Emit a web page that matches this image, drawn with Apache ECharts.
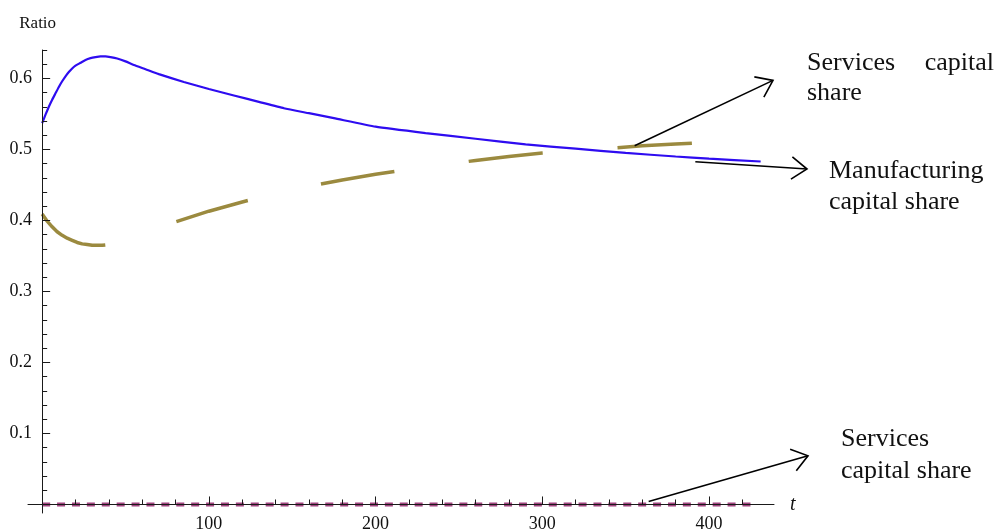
<!DOCTYPE html>
<html>
<head>
<meta charset="utf-8">
<script src="https://cdn.jsdelivr.net/npm/echarts@6/dist/echarts.min.js"></script>
<style>
  html, body { margin: 0; padding: 0; background: #fff; }
  #chart { width: 997px; height: 532px; }
</style>
</head>
<body>
<div id="chart"></div>
<script>
// Manufacturing capital share (solid blue)
const manufT = [0, 2, 4, 6, 8, 10, 12, 14, 16, 18, 20, 23, 26, 29, 32, 35, 38, 41, 45, 50, 55, 62, 70, 85, 100, 115, 130, 145, 160, 175, 200, 230, 260, 290, 320, 350, 380, 400, 431];
const manufV = [0.537, 0.549, 0.560, 0.570, 0.579, 0.588, 0.596, 0.603, 0.609, 0.614, 0.618, 0.622, 0.626, 0.6285, 0.630, 0.631, 0.631, 0.630, 0.628, 0.624, 0.619, 0.613, 0.606, 0.595, 0.585, 0.576, 0.567, 0.558, 0.551, 0.544, 0.532, 0.523, 0.515, 0.507, 0.501, 0.495, 0.490, 0.487, 0.483];

// Services capital share, upper curve (long dashes)
const servUpT = [0, 3, 6, 9, 12, 15, 18, 21, 24, 27, 30, 33, 36, 40, 45, 50, 55, 60, 70, 80, 100, 120, 140, 160, 180, 200, 220, 240, 260, 280, 300, 320, 340, 360, 380, 400, 431];
const servUpV = [0.409, 0.399, 0.391, 0.384, 0.379, 0.375, 0.372, 0.369, 0.367, 0.366, 0.365, 0.365, 0.365, 0.366, 0.369, 0.372, 0.376, 0.380, 0.390, 0.398, 0.413, 0.426, 0.438, 0.448, 0.457, 0.465, 0.472, 0.478, 0.4845, 0.490, 0.495, 0.499, 0.5015, 0.505, 0.5075, 0.510, 0.513];

// Services capital share, lower curve (flat at zero, short dashes)
const servLowT = [0, 100, 200, 300, 426];
const servLowV = [0, 0, 0, 0, 0];

// Axis ticks and labels
const xMajor = [100, 200, 300, 400];
const xMinor = [20, 40, 60, 80, 120, 140, 160, 180, 220, 240, 260, 280, 320, 340, 360, 380, 420];
const yMajor = [0.1, 0.2, 0.3, 0.4, 0.5, 0.6];
const yMinor = [0.02, 0.04, 0.06, 0.08, 0.12, 0.14, 0.16, 0.18, 0.22, 0.24, 0.26, 0.28, 0.32, 0.34, 0.36, 0.38,
                0.42, 0.44, 0.46, 0.48, 0.52, 0.54, 0.56, 0.58, 0.62, 0.64];

// Annotation arrows: [t, ratio] start and end points
const arrowStarts = [[355.4, 0.5053], [391.8, 0.4827], [363.8, 0.0042]];
const arrowEnds   = [[438.4, 0.5972], [458.8, 0.4724], [459.4, 0.0686]];

const SERIF = '"Liberation Serif", "Times New Roman", serif';
const AXIS_COLOR = '#1a1a1a';

const pairs = (ts, vs) => ts.map((t, i) => [t, vs[i]]);

const chart = echarts.init(document.getElementById('chart'), null, { renderer: 'canvas' });

const xRange = { min: -8.5, max: 439 };
const yRange = { min: -0.012, max: 0.64 };

chart.setOption({
  animation: false,
  grid: { left: 28, right: 223, top: 50, bottom: 19, containLabel: false, outerBoundsMode: 'none' },
  xAxis: [
    {
      type: 'value', ...xRange, position: 'bottom', z: 3,
      axisLine: { show: true, onZero: true, lineStyle: { color: AXIS_COLOR, width: 1 } },
      axisTick: { show: true, inside: true, length: 8, customValues: xMajor, lineStyle: { color: AXIS_COLOR } },
      axisLabel: { show: true, customValues: xMajor, margin: 2, color: '#111', fontFamily: SERIF, fontSize: 18 },
      splitLine: { show: false },
      name: 't', nameLocation: 'end', nameGap: 16,
      nameTextStyle: { fontFamily: SERIF, fontStyle: 'italic', fontSize: 20, color: '#111' }
    },
    {
      type: 'value', ...xRange, position: 'bottom', z: 3,
      axisLine: { show: false, onZero: true },
      axisTick: { show: true, inside: true, length: 5, customValues: xMinor, lineStyle: { color: AXIS_COLOR } },
      axisLabel: { show: false },
      splitLine: { show: false }
    }
  ],
  yAxis: [
    {
      type: 'value', ...yRange, position: 'left', z: 3,
      axisLine: { show: true, onZero: true, lineStyle: { color: AXIS_COLOR, width: 1 } },
      axisTick: { show: true, inside: true, length: 8, customValues: yMajor, lineStyle: { color: AXIS_COLOR } },
      axisLabel: { show: true, customValues: yMajor, margin: -4, color: '#111', fontFamily: SERIF, fontSize: 18 },
      splitLine: { show: false },
      name: 'Ratio', nameLocation: 'end', nameGap: 18,
      nameTextStyle: { fontFamily: SERIF, fontSize: 17, color: '#111', padding: [0, 9, 0, 0] }
    },
    {
      type: 'value', ...yRange, position: 'left', z: 3,
      axisLine: { show: false, onZero: true },
      axisTick: { show: true, inside: true, length: 5, customValues: yMinor, lineStyle: { color: AXIS_COLOR } },
      axisLabel: { show: false },
      splitLine: { show: false }
    }
  ],
  series: [
    {
      name: 'Manufacturing capital share', type: 'line', xAxisIndex: 0, yAxisIndex: 0,
      data: pairs(manufT, manufV), symbol: 'none', smooth: 0.15,
      lineStyle: { color: '#2e0cf0', width: 2.2 }, z: 2
    },
    {
      name: 'Services capital share', type: 'line', xAxisIndex: 0, yAxisIndex: 0,
      data: pairs(servUpT, servUpV), symbol: 'none',
      lineStyle: { color: '#9b8a3f', width: 3.5, type: [74.5, 75], cap: 'butt' }, z: 2
    },
    {
      name: 'Services capital share (lower)', type: 'line', xAxisIndex: 0, yAxisIndex: 0,
      data: pairs(servLowT, servLowV), symbol: 'none',
      lineStyle: { color: '#a0447f', width: 4, type: [8, 6.9], cap: 'butt' }, z: 2
    }
  ]
});

// Arrows with open heads, placed through the chart's own coordinate conversion
function arrowGraphics(from, to) {
  const p0 = chart.convertToPixel({ xAxisIndex: 0, yAxisIndex: 0 }, from);
  const p1 = chart.convertToPixel({ xAxisIndex: 0, yAxisIndex: 0 }, to);
  const ang = Math.atan2(p1[1] - p0[1], p1[0] - p0[0]);
  const len = 19, half = 36 * Math.PI / 180;
  const a = [p1[0] - len * Math.cos(ang - half), p1[1] - len * Math.sin(ang - half)];
  const b = [p1[0] - len * Math.cos(ang + half), p1[1] - len * Math.sin(ang + half)];
  const stroke = { stroke: '#000', lineWidth: 1.6, fill: null };
  return [
    { type: 'line', shape: { x1: p0[0], y1: p0[1], x2: p1[0], y2: p1[1] }, style: stroke, z: 10 },
    { type: 'polyline', shape: { points: [a, p1, b] }, style: stroke, z: 10 }
  ];
}

function label(text, x, y, align) {
  return {
    type: 'text', x: x, y: y, z: 10,
    style: { text: text, font: '26px ' + SERIF, fill: '#111', textAlign: align || 'left', textVerticalAlign: 'middle' }
  };
}

const graphics = [];
arrowStarts.forEach((s, i) => graphics.push(...arrowGraphics(s, arrowEnds[i])));
graphics.push(
  label('Services', 807, 63),
  label('capital', 994, 63, 'right'),
  label('share', 807, 93),
  label('Manufacturing', 829, 171),
  label('capital share', 829, 202),
  label('Services', 841, 439),
  label('capital share', 841, 471)
);
chart.setOption({ graphic: graphics });
</script>
</body>
</html>
